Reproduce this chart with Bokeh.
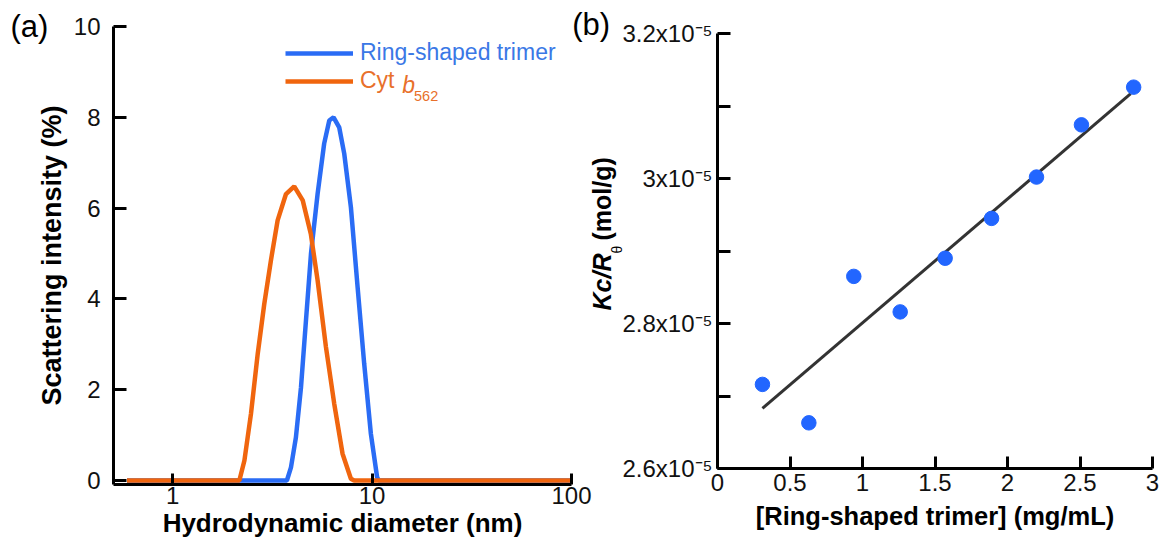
import math
from bokeh.plotting import figure
from bokeh.models import (FixedTicker, CustomJSTickFormatter, Label, Legend,
                          LegendItem, Range1d)
from bokeh.embed import file_html
from bokeh.resources import INLINE

# ---------------- Panel (a): DLS size distributions ----------------
diam_trimer = [0.59, 3.74, 3.92, 4.15, 4.40, 4.66, 4.94, 5.33, 5.75, 6.10, 6.41,
               6.84, 7.25, 7.83, 8.46, 9.13, 9.86, 10.6, 10.8, 100]
int_trimer = [0, 0, 0.29, 0.95, 2.05, 3.52, 5.0, 6.31, 7.42, 7.93, 8.0,
              7.78, 7.2, 6.02, 4.26, 2.57, 1.03, 0.07, 0, 0]
diam_cyt = [0.59, 2.16, 2.29, 2.47, 2.67, 2.88, 3.11, 3.36, 3.70, 4.07, 4.49,
            4.93, 5.33, 5.87, 6.46, 7.11, 7.83, 8.13, 100]
int_cyt = [0, 0, 0.44, 1.47, 2.79, 3.89, 4.85, 5.73, 6.31, 6.48, 6.17,
           5.43, 4.41, 2.94, 1.69, 0.59, 0.04, 0, 0]
a_xticks = [1, 10, 100]
a_xtick_labels = ["1", "10", "100"]
a_yticks = [0, 2, 4, 6, 8, 10]
a_ytick_labels = ["0", "2", "4", "6", "8", "10"]

# ---------------- Panel (b): Debye plot ----------------
conc = [0.31, 0.63, 0.94, 1.26, 1.57, 1.89, 2.20, 2.51, 2.87]
kc_r = [2.716e-5, 2.663e-5, 2.865e-5, 2.816e-5, 2.890e-5, 2.945e-5,
        3.002e-5, 3.074e-5, 3.126e-5]
fit_conc = [0.31, 2.85]
fit_kc_r = [2.683e-5, 3.117e-5]
b_xticks = [0, 0.5, 1, 1.5, 2, 2.5, 3]
b_xtick_labels = ["0", "0.5", "1", "1.5", "2", "2.5", "3"]
b_yticks = [2.6e-5, 2.7e-5, 2.8e-5, 2.9e-5, 3.0e-5, 3.1e-5, 3.2e-5]
b_ytick_labels = ["2.6x10\u207b\u2075", "", "2.8x10\u207b\u2075", "",
                  "3x10\u207b\u2075", "", "3.2x10\u207b\u2075"]

FONT = "Liberation Sans"
BLUE_LINE = "#2a6cf5"
ORANGE_LINE = "#f0650e"
BLUE_TEXT = "#3a78e6"
ORANGE_TEXT = "#e8702a"
MARKER = "#2266ff"
H = 538
ROT = math.pi / 2


def fmt(ticks, labels):
    return CustomJSTickFormatter(args=dict(tv=ticks, tl=labels), code="""
        for (let i = 0; i < tv.length; i++) {
            if (Math.abs(tv[i] - tick) <= 1e-9 * Math.max(1e-6, Math.abs(tv[i]))) return tl[i];
        }
        return "";
    """)


def style_axis(ax, tick_len, standoff):
    ax.axis_line_width = 3
    ax.axis_line_color = "black"
    ax.major_tick_line_width = 3
    ax.major_tick_line_color = "black"
    ax.major_tick_in = tick_len
    ax.major_tick_out = 0
    ax.minor_tick_line_color = None
    ax.major_label_text_font = FONT
    ax.major_label_text_font_size = "24px"
    ax.major_label_text_color = "#111111"
    ax.major_label_standoff = standoff


def lab(p, text, x, y, size, style="normal", color="black", angle=0.0,
        align="left"):
    p.add_layout(Label(x=x, y=y, x_units="screen", y_units="screen", text=text,
                       text_font=FONT, text_font_size=size, text_font_style=style,
                       text_color=color, angle=angle, text_align=align,
                       text_baseline="middle"))


# ---------------- Figure (a) ----------------
p1 = figure(width=608, height=H, x_axis_type="log",
            x_range=Range1d(0.505, 100), y_range=Range1d(-0.088, 10),
            output_backend="svg", toolbar_location=None,
            min_border_left=113, min_border_right=37,
            min_border_top=26, min_border_bottom=H - 484)
p1.grid.visible = False
p1.outline_line_color = None
p1.xaxis.ticker = FixedTicker(ticks=a_xticks)
p1.xaxis.formatter = fmt(a_xticks, a_xtick_labels)
p1.yaxis.ticker = FixedTicker(ticks=a_yticks)
p1.yaxis.formatter = fmt(a_yticks, a_ytick_labels)
style_axis(p1.xaxis[0], 11, 2)
style_axis(p1.yaxis[0], 13, 13)

r_tri = p1.line(diam_trimer, int_trimer, line_color=BLUE_LINE, line_width=4.5)
r_cyt = p1.line(diam_cyt, int_cyt, line_color=ORANGE_LINE, line_width=4.5)


def make_legend(label, rend, color, loc):
    return Legend(items=[LegendItem(label=label, renderers=[rend])], location=loc,
                  glyph_width=68, glyph_height=20, label_standoff=7, padding=0,
                  margin=0, spacing=0, border_line_color=None,
                  background_fill_alpha=0, label_text_font=FONT,
                  label_text_font_size="23px", label_text_color=color,
                  label_height=20)


p1.add_layout(make_legend("Ring-shaped trimer", r_tri, BLUE_TEXT, (172, 417.7)))
p1.add_layout(make_legend("Cyt", r_cyt, ORANGE_TEXT, (172, 390)))
lab(p1, "b", 288.7, 399.9, "23px", style="italic", color=ORANGE_TEXT)
lab(p1, "562", 300.5, 388.2, "14.5px", color=ORANGE_TEXT)

# ---------------- Figure (b) ----------------
p2 = figure(width=596, height=H,
            x_range=Range1d(0, 3), y_range=Range1d(2.6e-5, 3.2e-5),
            output_backend="svg", toolbar_location=None,
            min_border_left=152, min_border_right=9,
            min_border_top=33, min_border_bottom=H - 468)
p2.grid.visible = False
p2.outline_line_color = None
p2.border_fill_color = None
p2.background_fill_color = None
p2.xaxis.ticker = FixedTicker(ticks=b_xticks)
p2.xaxis.formatter = fmt(b_xticks, b_xtick_labels)
p2.yaxis.ticker = FixedTicker(ticks=b_yticks)
p2.yaxis.formatter = fmt(b_yticks, b_ytick_labels)
style_axis(p2.xaxis[0], 12, 5)
style_axis(p2.yaxis[0], 13, 5)

p2.line(fit_conc, fit_kc_r, line_color="#333333", line_width=3)
p2.scatter(conc, kc_r, size=14.5, fill_color=MARKER, line_color=MARKER)

# ---------------- Overlay for panel letters and axis titles ----------------
p3 = figure(width=1161, height=H, x_range=Range1d(0, 1161), y_range=Range1d(0, H),
            output_backend="svg", toolbar_location=None, min_border=0,
            x_axis_location=None, y_axis_location=None)
p3.grid.visible = False
p3.outline_line_color = None
p3.border_fill_color = None
p3.background_fill_color = None

lab(p3, "(a)", 10, 512.4, "31px")
lab(p3, "Scattering intensity (%)", 51.9, 283, "27px", style="bold",
    angle=ROT, align="center")
lab(p3, "Hydrodynamic diameter (nm)", 342, 15.4, "26px", style="bold",
    align="center")
lab(p3, "(b)", 571.7, 514.1, "31px")
lab(p3, "Kc/R", 601.6, 228, "25px", style="bold italic", angle=ROT)
lab(p3, "\u03b8", 616.1, 285, "14px", angle=ROT)
lab(p3, "(mol/g)", 601.6, 298, "25px", style="bold", angle=ROT)
lab(p3, "[Ring-shaped trimer] (mg/mL)", 934.5, 22.2, "25.5px", style="bold",
    align="center")

p2.margin = (-H, 0, 0, 565)
p3.margin = (-H, 0, 0, 0)

open("out.html", "w").write(file_html([p1, p2, p3], INLINE))
